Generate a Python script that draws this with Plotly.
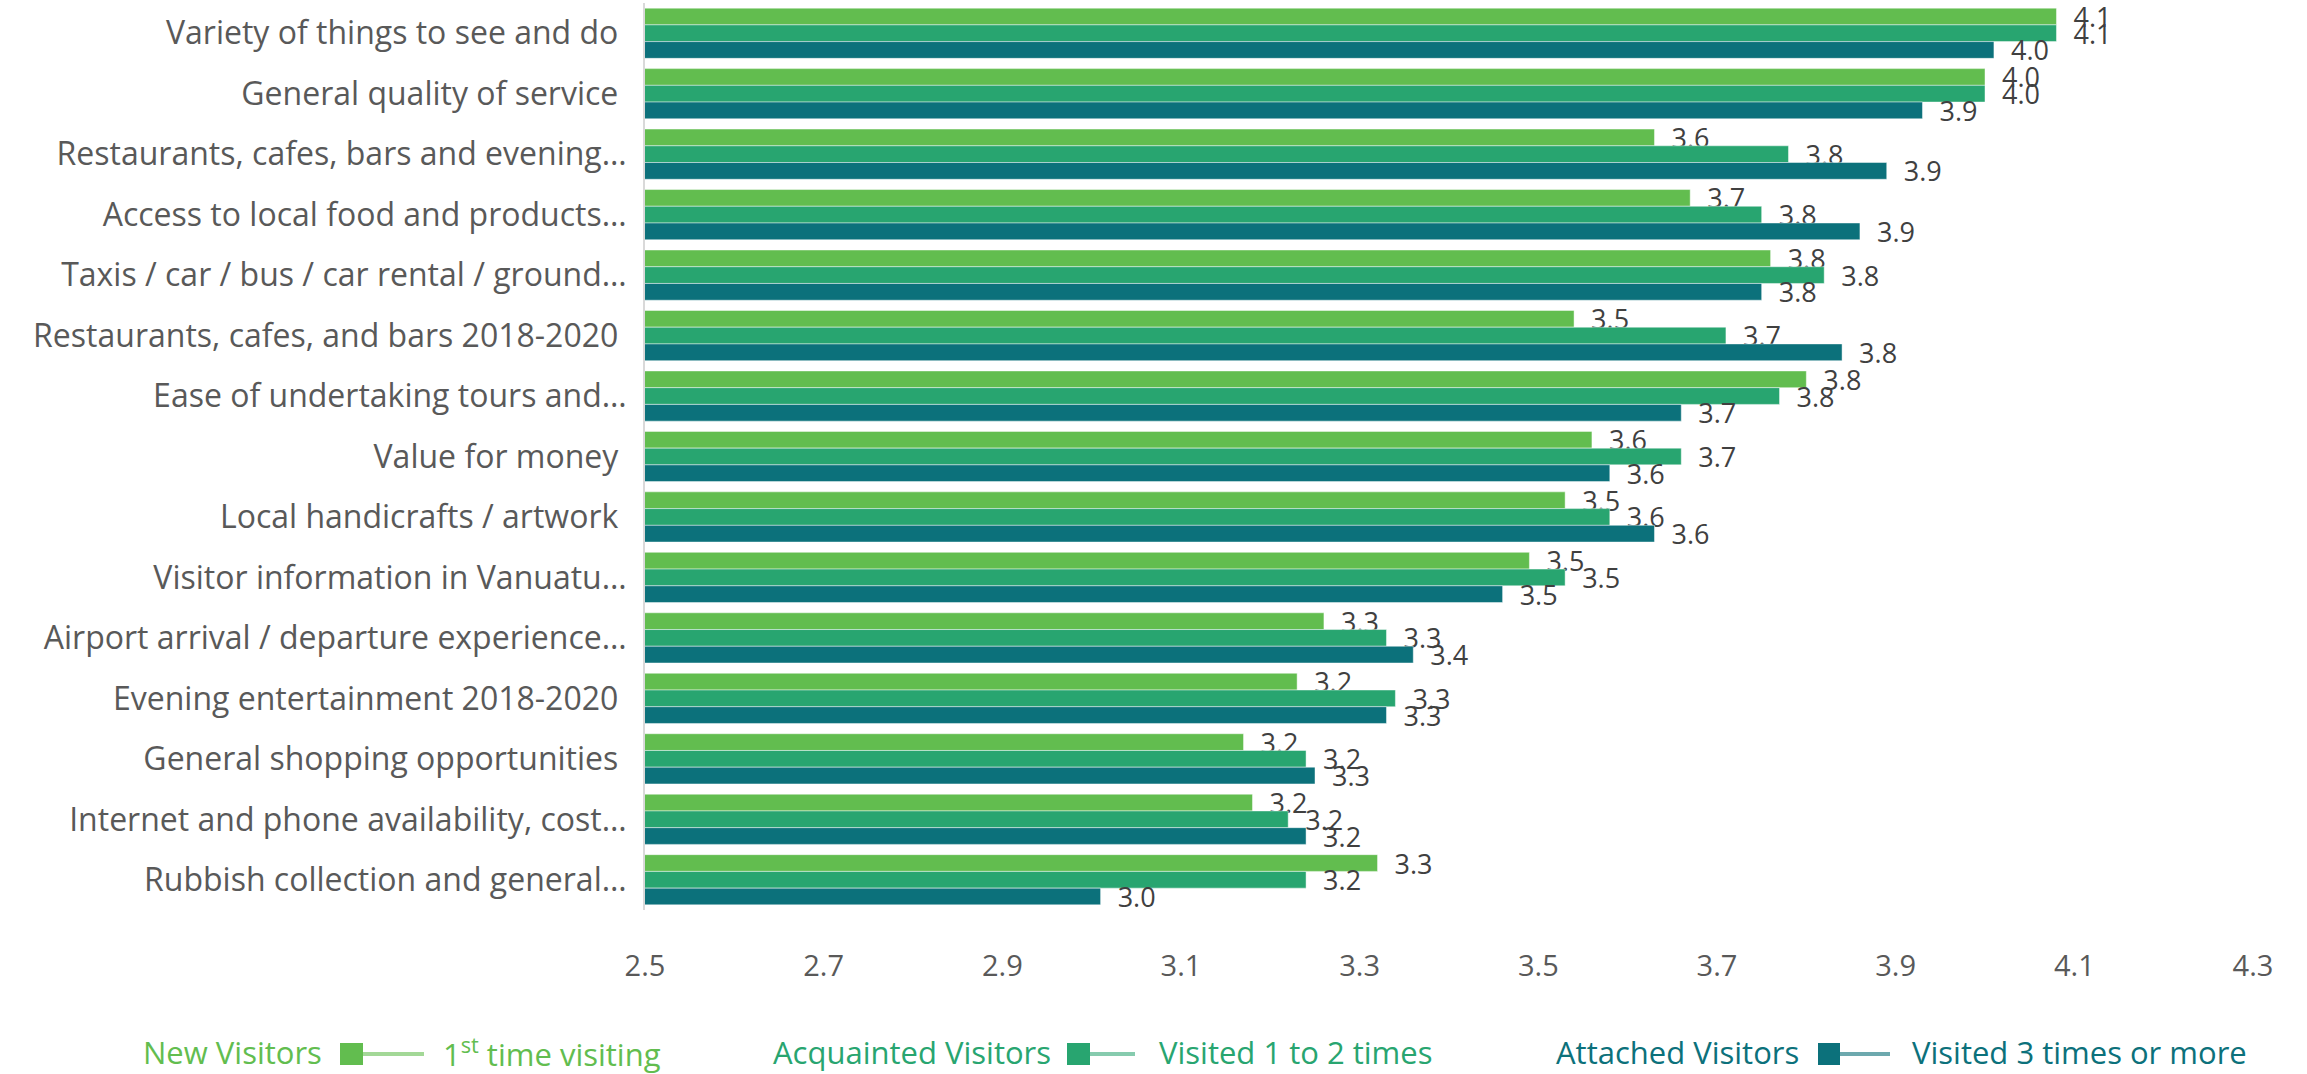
import plotly.graph_objects as go

categories = [
    "Variety of things to see and do ",
    "General quality of service ",
    "Restaurants, cafes, bars and evening…",
    "Access to local food and products…",
    "Taxis / car / bus / car rental / ground…",
    "Restaurants, cafes, and bars 2018-2020 ",
    "Ease of undertaking tours and…",
    "Value for money ",
    "Local handicrafts / artwork ",
    "Visitor information in Vanuatu…",
    "Airport arrival / departure experience…",
    "Evening entertainment 2018-2020 ",
    "General shopping opportunities ",
    "Internet and phone availability, cost…",
    "Rubbish collection and general…",
]

new_visitors = [4.08, 4.00, 3.63, 3.67, 3.76, 3.54, 3.80, 3.56, 3.53, 3.49, 3.26, 3.23, 3.17, 3.18, 3.32]
acquainted_visitors = [4.08, 4.00, 3.78, 3.75, 3.82, 3.71, 3.77, 3.66, 3.58, 3.53, 3.33, 3.34, 3.24, 3.22, 3.24]
attached_visitors = [4.01, 3.93, 3.89, 3.86, 3.75, 3.84, 3.66, 3.58, 3.63, 3.46, 3.36, 3.33, 3.25, 3.24, 3.01]

series_names = ["New Visitors", "Acquainted Visitors", "Attached Visitors"]
series_sub = ["1<sup>st</sup> time visiting", "Visited 1 to 2 times", "Visited 3 times or more"]
x_ticks = [2.5, 2.7, 2.9, 3.1, 3.3, 3.5, 3.7, 3.9, 4.1, 4.3]

colors = ["#62BD4F", "#28A570", "#0C717B"]
line_colors = ["#A3D897", "#86CBAE", "#6DA9AE"]
FONT = "Open Sans, Lato, sans-serif"

fig = go.Figure()
for name, vals, col in zip(series_names, [new_visitors, acquainted_visitors, attached_visitors], colors):
    fig.add_trace(go.Bar(
        y=categories, x=vals, name=name, orientation="h",
        marker=dict(color=col, line=dict(color="rgba(255,255,255,0.45)", width=1)),
        text=vals, texttemplate="\u00a0\u00a0%{x:.1f}", textposition="outside",
        textfont=dict(family=FONT, size=27, color="#404040"),
        constraintext="none", cliponaxis=False, showlegend=False,
    ))

L, R, T, B = 645, 2253, 3, 910
W, H = 2307, 1074

def px(x):
    return (x - L) / (R - L)

def py(y):
    return (B - y) / (B - T)

fig.update_layout(
    width=W, height=H,
    margin=dict(l=L, r=W - R, t=T, b=H - B),
    barmode="group", bargap=0.17, bargroupgap=0,
    plot_bgcolor="white", paper_bgcolor="white",
    font=dict(family=FONT, color="#595959"),
    xaxis=dict(range=[2.5, 4.3], tickvals=x_ticks, ticktext=[f"{v:.1f}" for v in x_ticks],
               showgrid=False, zeroline=False, showline=False,
               ticks="outside", ticklen=30, tickcolor="rgba(0,0,0,0)",
               tickfont=dict(family=FONT, size=29, color="#595959")),
    yaxis=dict(autorange="reversed", showgrid=False, zeroline=False,
               showline=True, linecolor="#D9D9D9", linewidth=2,
               ticks="outside", ticklen=10, tickcolor="rgba(0,0,0,0)",
               tickfont=dict(family=FONT, size=32, color="#595959")),
)

# legend drawn manually: "Name ■— subtitle"
legend_y = 1052
legend_items = [
    (324, 340, 363, 424, 441),
    (1053, 1067, 1090, 1135, 1157),
    (1801, 1818, 1840, 1890, 1910),
]
for i, (name_r, sq_l, sq_r, ln_r, sub_l) in enumerate(legend_items):
    fig.add_annotation(xref="paper", yref="paper", x=px(name_r), y=py(legend_y),
                       text=series_names[i], showarrow=False, xanchor="right", yanchor="middle",
                       font=dict(family=FONT, size=31, color=colors[i]))
    fig.add_shape(type="line", xref="paper", yref="paper",
                  x0=px(sq_r), x1=px(ln_r), y0=py(legend_y + 2), y1=py(legend_y + 2),
                  line=dict(color=line_colors[i], width=4))
    fig.add_shape(type="rect", xref="paper", yref="paper",
                  x0=px(sq_l), x1=px(sq_r), y0=py(legend_y - 9), y1=py(legend_y + 13),
                  fillcolor=colors[i], line=dict(width=0))
    fig.add_annotation(xref="paper", yref="paper", x=px(sub_l), y=py(legend_y),
                       text=series_sub[i], showarrow=False, xanchor="left", yanchor="middle",
                       font=dict(family=FONT, size=31, color=colors[i]))

fig.write_html("out.html")
